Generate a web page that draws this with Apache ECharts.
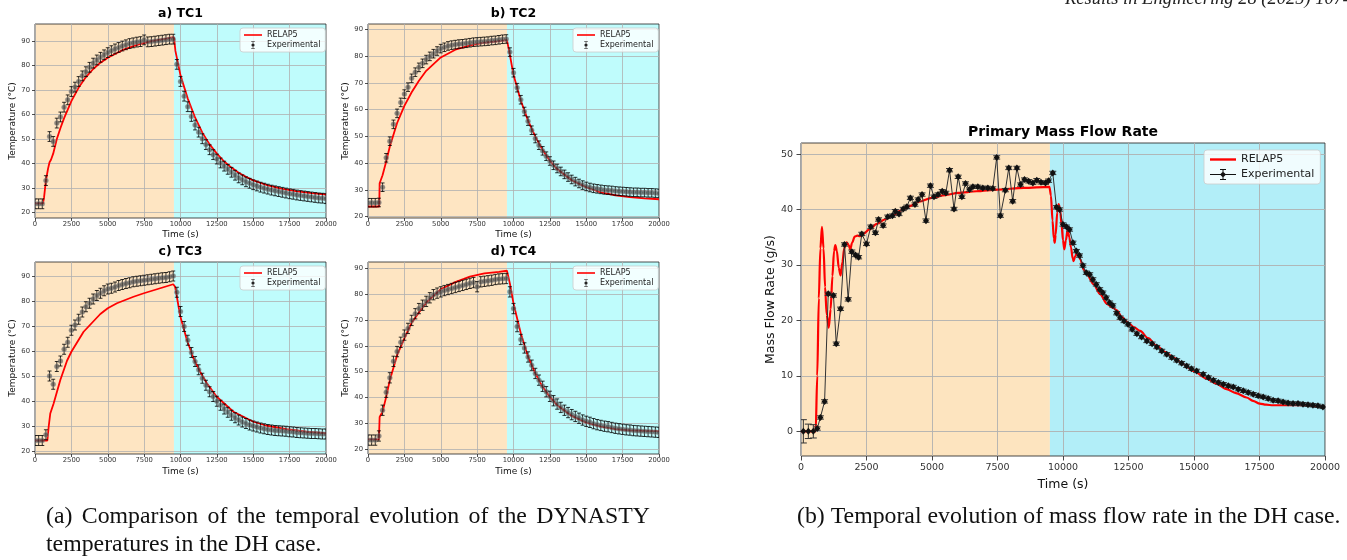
<!DOCTYPE html>
<html>
<head>
<meta charset="utf-8">
<script src="https://cdn.jsdelivr.net/npm/echarts@6/dist/echarts.min.js"></script>
<style>
  html, body { margin: 0; padding: 0; background: #fff; }
  #chart { width: 1347px; height: 560px; }
</style>
</head>
<body>
<div id="chart"></div>
<script>
// ---- data ----
// experimental sampling times (s), same for every thermocouple
const expTime = [0, 250, 500, 750, 1000, 1250, 1500, 1750, 2000, 2250, 2500, 2750, 3000, 3250, 3500, 3750, 4000, 4250, 4500, 4750,
  5000, 5250, 5500, 5750, 6000, 6250, 6500, 6750, 7000, 7250, 7500, 7750, 8000, 8250, 8500, 8750, 9000, 9250, 9500,
  9750, 10000, 10250, 10500, 10750, 11000, 11250, 11500, 11750, 12000, 12250, 12500, 12750, 13000, 13250, 13500, 13750, 14000, 14250, 14500, 14750,
  15000, 15250, 15500, 15750, 16000, 16250, 16500, 16750, 17000, 17250, 17500, 17750, 18000, 18250, 18500, 18750, 19000, 19250, 19500, 19750, 20000];

const tc1Exp = [23.5, 23.5, 23.5, 33, 51, 49, 56.5, 59, 63, 66, 69.4, 71.2, 73.5, 75.8, 77.5, 79.3, 81, 82.3, 83.4, 84.4,
  85.3, 86.1, 86.8, 87.4, 88, 88.5, 89, 89.3, 89.6, 89.8, 90.5, 89.7, 89.8, 90, 90.2, 90.4, 90.6, 90.8, 90.8,
  80.5, 73.5, 67.5, 63.2, 59.2, 55.7, 52.8, 50.1, 47.7, 45.6, 43.6, 41.8, 40.2, 38.9, 37.6, 36.4, 35.2, 34.1, 33.3, 32.5, 31.9,
  31.3, 30.8, 30.3, 29.9, 29.5, 29.1, 28.8, 28.5, 28.2, 27.9, 27.6, 27.4, 27.1, 26.9, 26.7, 26.5, 26.3, 26.1, 25.9, 25.8, 25.6];
const tc2Exp = [25.2, 25.2, 25.2, 25.3, 31, 42, 48.2, 54.5, 58.6, 62.7, 65.8, 68.4, 71.7, 74, 75.8, 77.3, 78.7, 79.9, 80.9, 81.9,
  82.8, 83.3, 83.8, 84.1, 84.3, 84.5, 84.6, 84.8, 85, 85.2, 85.3, 85.4, 85.5, 85.6, 85.8, 85.9, 86.1, 86.3, 86.4,
  81.5, 73.8, 68.2, 63.7, 59.3, 55.7, 52.3, 49.2, 46.7, 44.6, 42.6, 40.8, 39.2, 38, 36.9, 35.8, 34.8, 33.9, 33.1, 32.4, 31.8,
  31.3, 30.9, 30.6, 30.4, 30.2, 30, 29.9, 29.8, 29.6, 29.5, 29.4, 29.3, 29.2, 29.1, 29.1, 29, 29, 28.9, 28.9, 28.8, 28.7];
const tc3Exp = [24.2, 24.2, 24.2, 26.5, 50, 46.7, 53.8, 56, 60.7, 63.5, 68.3, 70.4, 72.7, 75.6, 77.7, 79.1, 80.8, 82.2, 83.1, 84.1,
  84.8, 85.1, 85.6, 86.2, 86.6, 87, 87.3, 87.7, 87.9, 88.1, 88.3, 88.5, 88.7, 88.9, 89.1, 89.3, 89.4, 89.7, 90,
  83.5, 75.8, 69.8, 64.3, 59.4, 55.8, 52.5, 49.1, 46.3, 43.7, 41.8, 39.9, 38.3, 36.8, 35.5, 34.3, 33.3, 32.4, 31.6, 31, 30.4,
  30, 29.6, 29.2, 28.9, 28.6, 28.4, 28.2, 28.1, 28, 27.9, 27.7, 27.6, 27.4, 27.3, 27.2, 27.1, 27, 27, 26.9, 26.8, 26.8];
const tc4Exp = [23.4, 23.4, 23.4, 25, 35, 42, 47.6, 54, 57.8, 61.4, 64.2, 66.8, 69.9, 72.5, 74.5, 75.8, 77.3, 78.7, 79.9, 80.5,
  81, 81.5, 81.9, 82.3, 82.7, 83.1, 83.5, 83.9, 84.3, 84.6, 83, 84.9, 85.1, 85.3, 85.5, 85.8, 86, 86.1, 86.2,
  81, 74.5, 67.5, 62.5, 59.2, 55.7, 52.5, 49.3, 46.7, 44.3, 42.2, 40.4, 38.7, 37.4, 36.1, 35, 34.1, 33.3, 32.6, 31.9, 31.2,
  30.7, 30.3, 29.8, 29.4, 29.1, 28.8, 28.6, 28.3, 28, 27.8, 27.6, 27.4, 27.3, 27.1, 27, 26.9, 26.8, 26.7, 26.6, 26.5, 26.4];

// measurement uncertainty (+/- degC)
const tc1Err = 2.0;
const tc2Err = 1.6;
const tc3Err = 2.0;
const tc4Err = 2.0;

// RELAP5 results
const tc1RelapT = [0, 550, 620, 750, 900, 1000, 1100, 1250, 1500, 1750, 2000, 2500, 3000, 3500, 4000, 4500, 5000, 6000, 7000, 8000, 9000, 9550,
  9650, 10000, 10500, 11000, 11500, 12000, 12500, 13000, 13500, 14000, 14500, 15000, 16000, 17000, 18000, 19000, 20000];
const tc1Relap = [23.7, 23.7, 26, 33, 38, 40.5, 41.5, 44, 50, 54.5, 58.5, 65.5, 71, 75.3, 78.6, 81.2, 83.2, 86.3, 88.5, 90, 91, 91.6,
  86, 76, 66.5, 58.8, 52.6, 47.8, 44, 40.8, 38.3, 36.2, 34.5, 33.1, 31, 29.6, 28.6, 27.9, 27.3];
const tc2RelapT = [0, 770, 800, 1000, 1250, 1500, 2000, 2500, 3000, 3500, 4000, 5000, 6000, 7000, 8000, 9000, 9550,
  9750, 10000, 10500, 11000, 11500, 12000, 12500, 13000, 14000, 15000, 16000, 17000, 18000, 19000, 20000];
const tc2Relap = [23.8, 23.8, 32.5, 35.5, 40.6, 46.2, 55, 61.4, 66.5, 70.8, 74.5, 79.5, 82.4, 84, 85, 85.6, 86,
  80.5, 73, 63.4, 55.9, 49.9, 44.9, 40.9, 37.8, 33.6, 31, 29.1, 28, 27.3, 26.8, 26.5];
const tc3RelapT = [0, 850, 940, 1050, 1280, 1510, 1740, 2200, 2500, 3340, 4490, 5000, 5630, 6770, 7480, 8380, 9500,
  9630, 9980, 10440, 10890, 11350, 11810, 12490, 13640, 15010, 15930, 17300, 18670, 20000];
const tc3Relap = [24.2, 24.2, 29.7, 35, 39, 43.7, 48.4, 56.1, 59.7, 67.7, 74.8, 77.1, 79.1, 81.7, 83.1, 84.7, 86.7,
  85.7, 74, 64.4, 57.1, 51.7, 47.1, 41.7, 35.7, 31.7, 30.1, 28.7, 27.7, 27.1];
const tc4RelapT = [0, 750, 800, 1000, 1250, 1500, 2000, 2500, 3000, 3500, 4000, 5000, 6000, 7000, 8000, 9000, 9550,
  9750, 10000, 10500, 11000, 11500, 12000, 12500, 13000, 14000, 15000, 16000, 17000, 18000, 19000, 20000];
const tc4Relap = [23.7, 23.7, 32.4, 34.4, 40.2, 46.7, 56.4, 62.9, 69, 73, 76.8, 82, 84.8, 86.9, 88.2, 88.8, 89.2,
  84.3, 76.5, 64.9, 55.8, 49.3, 44.1, 40.2, 37, 32.8, 30.2, 28.6, 27.7, 27.2, 27, 26.9];

// primary mass flow rate (g/s)
const mfExpT = [90, 280, 470, 620, 740, 900, 1040, 1240, 1345, 1510, 1660, 1800, 1940, 2080, 2200, 2320, 2500, 2665, 2840, 2960,
  3135, 3310, 3490, 3600, 3740, 3900, 4040, 4175, 4350, 4470, 4620, 4770, 4940, 5075, 5230, 5390, 5530, 5670, 5840, 6000,
  6140, 6280, 6430, 6560, 6750, 6940, 7130, 7320, 7470, 7610, 7800, 7930, 8080, 8240, 8380, 8530, 8690, 8850, 9000, 9160,
  9330, 9450, 9610, 9750, 9870, 10000, 10130, 10250, 10380, 10510, 10630, 10760, 10890, 11020, 11140, 11270, 11400, 11520, 11650, 11780,
  11900, 12050, 12180, 12330, 12480, 12640, 12820, 13000, 13200, 13400, 13580, 13770, 13960, 14150, 14340, 14530, 14720, 14900, 15100, 15350,
  15550, 15740, 15930, 16120, 16310, 16500, 16690, 16880, 17070, 17260, 17450, 17640, 17830, 18020, 18210, 18400, 18590, 18780, 18970, 19160,
  19350, 19540, 19730, 19920];
const mfExp = [0, 0, 0, 0.5, 2.5, 5.4, 24.8, 24.5, 15.8, 22.1, 33.7, 23.8, 32.4, 31.8, 31.4, 35.6, 33.8, 36.9, 35.8, 38.2,
  37.1, 38.7, 38.9, 39.7, 39.2, 40.1, 40.5, 42.1, 40.9, 41.8, 42.7, 38, 44.3, 42.3, 42.7, 43.3, 43, 47.1, 40.1, 45.9,
  42.3, 44.7, 43.6, 44.1, 44.1, 43.9, 43.9, 43.8, 49.4, 38.9, 43.5, 47.5, 41.5, 47.5, 44.5, 45.4, 45.1, 44.8, 45.3, 44.9,
  44.8, 45.2, 46.6, 40.4, 40, 37.3, 36.9, 36.4, 34, 32.5, 31.7, 29.9, 28.6, 28.3, 27.4, 26.5, 25.6, 25, 24.1, 23.2,
  22.7, 21.3, 20.5, 19.9, 19.3, 18.4, 17.6, 17, 16.3, 15.8, 15.2, 14.5, 13.9, 13.3, 12.8, 12.3, 11.8, 11.3, 10.9, 10.3,
  9.7, 9.2, 8.8, 8.5, 8.2, 8, 7.6, 7.3, 7, 6.7, 6.4, 6.2, 5.9, 5.6, 5.5, 5.3, 5.1, 5, 5, 4.9,
  4.8, 4.7, 4.6, 4.4];
const mfErrHead = [2.1, 1.3, 1.2]; // first samples have large bars
const mfErrRest = 0.3;

const mfRelapT = [0, 560, 620, 680, 740, 800, 860, 920, 980, 1060, 1130, 1200, 1260, 1310, 1370, 1440, 1510, 1580, 1650, 1740,
  1820, 1880, 1950, 2050, 2150, 2250, 2400, 2600, 2900, 3200, 3500, 3800, 4150, 4500, 5000, 5500, 6000, 6700, 7500, 8500,
  9480, 9540, 9600, 9650, 9683, 9720, 9780, 9835, 9890, 9950, 10000, 10050, 10110, 10178, 10240, 10305, 10370, 10406, 10460, 10533,
  10600, 10660, 10787, 10914, 11168, 11421, 11675, 11900, 12056, 12250, 12475, 12700, 12944, 13250, 13579, 13900, 14213, 14600, 14975, 15482,
  15850, 16244, 16600, 17005, 17250, 17513, 17750, 18020, 18655, 19289, 19924, 20000];
const mfRelap = [0, 0, 10, 24, 33, 36.9, 33, 26, 21, 18.7, 22, 28, 32.5, 33.6, 32.5, 29.5, 28.1, 30.5, 33, 34.1,
  33.6, 32.8, 34, 35.1, 35.3, 35.2, 35.7, 36.4, 37.4, 38.2, 38.9, 39.8, 40.6, 41.4, 42.1, 42.6, 43, 43.3, 43.6, 43.9,
  44.1, 42.5, 38, 34.8, 34, 35.5, 39.5, 41, 40, 37, 34.5, 32.8, 34.5, 36.4, 35, 33.2, 31.2, 30.7, 31.5, 32.2,
  31.6, 31, 29.2, 28.3, 26.5, 24.7, 23, 22.3, 21.8, 20.6, 19.6, 18.8, 18.1, 16.8, 15.4, 14.3, 13.3, 12.1, 10.9, 9.5,
  8.6, 7.6, 6.9, 6.1, 5.5, 5, 4.8, 4.7, 4.7, 4.7, 4.4, 4.4];

const timeTicks = [0, 2500, 5000, 7500, 10000, 12500, 15000, 17500, 20000];
const tempTicks = [20, 30, 40, 50, 60, 70, 80, 90];
const flowTicks = [0, 10, 20, 30, 40, 50];

// heating / cooling phases
const tcSwitch = 9550;
const mfSwitch = 9500;

// ---- helpers ----
const pairs = (xs, ys) => xs.map((x, i) => [x, ys[i]]);

function shadeItem(colors) {
  return function (params, api) {
    const a = api.coord([api.value(0), 0]);
    const b = api.coord([api.value(1), 0]);
    const cs = params.coordSys;
    return {
      type: 'rect',
      shape: { x: a[0], y: cs.y, width: b[0] - a[0], height: cs.height },
      style: { fill: colors[params.dataIndex] }
    };
  };
}

function errorBarItem(capHalf, barColor, width, marker) {
  return function (params, api) {
    const t = api.value(0), v = api.value(1), e = api.value(2);
    const c = api.coord([t, v]);
    const hi = api.coord([t, v + e]);
    const lo = api.coord([t, v - e]);
    const st = () => ({ stroke: barColor, lineWidth: width });
    const kids = [
      { type: 'line', shape: { x1: c[0], y1: hi[1], x2: c[0], y2: lo[1] }, style: st() },
      { type: 'line', shape: { x1: c[0] - capHalf, y1: hi[1], x2: c[0] + capHalf, y2: hi[1] }, style: st() },
      { type: 'line', shape: { x1: c[0] - capHalf, y1: lo[1], x2: c[0] + capHalf, y2: lo[1] }, style: st() }
    ];
    if (marker) {
      kids.push({ type: 'circle', shape: { cx: c[0], cy: c[1], r: 2.5 },
        style: { fill: 'rgba(70,70,70,0.62)', stroke: 'rgba(160,160,160,0.6)', lineWidth: 0.6 } });
    }
    return { type: 'group', children: kids };
  };
}

// spread words over a given width, like the justified caption line
function justified(words, x0, x1, y, fontCss) {
  const ctx = document.createElement('canvas').getContext('2d');
  ctx.font = fontCss;
  const widths = words.map(w => ctx.measureText(w).width);
  const total = widths.reduce((s, w) => s + w, 0);
  const gap = (x1 - x0 - total) / (words.length - 1);
  let x = x0;
  return words.map((w, i) => {
    const el = { type: 'text', x: x, y: y, style: { text: w, font: fontCss, fill: '#111', textVerticalAlign: 'middle' } };
    x += widths[i] + gap;
    return el;
  });
}

const font = 'DejaVu Sans';
const tcShade = ['#fee5c2', '#bffcfc'];
const mfShade = ['#fde4bf', '#b2eef8'];

const tcPanels = [
  { title: 'a) TC1', left: 35, top: 24, height: 194, yMin: 17.7, yMax: 97, exp: tc1Exp, err: tc1Err, rt: tc1RelapT, rv: tc1Relap, nameGap: 12 },
  { title: 'b) TC2', left: 368, top: 24, height: 194, yMin: 19.5, yMax: 92, exp: tc2Exp, err: tc2Err, rt: tc2RelapT, rv: tc2Relap, nameGap: 12 },
  { title: 'c) TC3', left: 35, top: 262, height: 192, yMin: 18.8, yMax: 95.6, exp: tc3Exp, err: tc3Err, rt: tc3RelapT, rv: tc3Relap, nameGap: 13 },
  { title: 'd) TC4', left: 368, top: 262, height: 192, yMin: 18, yMax: 92.6, exp: tc4Exp, err: tc4Err, rt: tc4RelapT, rv: tc4Relap, nameGap: 13 }
];

const grid = [], xAxis = [], yAxis = [], series = [], legend = [], graphic = [];

tcPanels.forEach((p, i) => {
  grid.push({ left: p.left, top: p.top, width: 291, height: p.height, show: true,
    borderColor: '#222', borderWidth: 0.8, backgroundColor: 'transparent', z: 1 });
  xAxis.push({
    type: 'value', gridIndex: i, min: 0, max: 20000, z: 1,
    axisLine: { show: false, onZero: false },
    axisTick: { customValues: timeTicks, length: 3, lineStyle: { color: '#222', width: 0.8 } },
    axisLabel: { customValues: timeTicks, fontSize: 6.8, color: '#333', margin: 3, fontFamily: font, formatter: v => String(v) },
    splitLine: { show: true, lineStyle: { color: '#b0b0b0', width: 0.8 } },
    name: 'Time (s)', nameLocation: 'middle', nameGap: p.nameGap,
    nameTextStyle: { fontSize: 9, color: '#111', fontFamily: font }
  });
  yAxis.push({
    type: 'value', gridIndex: i, min: p.yMin, max: p.yMax, z: 1,
    axisLine: { show: false, onZero: false },
    axisTick: { customValues: tempTicks, length: 3, lineStyle: { color: '#222', width: 0.8 } },
    axisLabel: { customValues: tempTicks, fontSize: 6.8, color: '#333', margin: 5, fontFamily: font },
    splitLine: { show: true, lineStyle: { color: '#b0b0b0', width: 0.8 } },
    name: 'Temperature (°C)', nameLocation: 'middle', nameGap: 16,
    nameTextStyle: { fontSize: 9, color: '#111', fontFamily: font }
  });
  series.push({
    type: 'custom', xAxisIndex: i, yAxisIndex: i, z: 0, silent: true,
    renderItem: shadeItem(tcShade),
    data: [[0, tcSwitch], [tcSwitch, 20000]]
  });
  series.push({
    type: 'line', name: 'RELAP5', xAxisIndex: i, yAxisIndex: i, z: 2,
    data: pairs(p.rt, p.rv), symbol: 'none', showSymbol: false,
    lineStyle: { color: '#ff0000', width: 1.8 }, itemStyle: { color: '#ff0000' }
  });
  series.push({
    type: 'custom', name: 'Experimental', xAxisIndex: i, yAxisIndex: i, z: 3, clip: true,
    renderItem: errorBarItem(2, '#000', 0.8, true),
    itemStyle: { color: '#333' },
    data: expTime.map((t, k) => [t, p.exp[k], p.err])
  });
  legend.push({
    orient: 'vertical', left: p.left + 205, top: p.top + 4,
    padding: [3, 5, 3, 4], itemGap: 2, itemWidth: 18, itemHeight: 8, selectedMode: false,
    backgroundColor: 'rgba(255,255,255,0.8)', borderColor: '#cccccc', borderWidth: 0.8, borderRadius: 3,
    textStyle: { fontSize: 8, fontFamily: font, color: '#222' },
    data: [
      { name: 'RELAP5', icon: 'path://M0,0h18v1.6h-18z', itemStyle: { color: '#ff0000', borderWidth: 0 } },
      { name: 'Experimental', icon: 'path://M0,0h4v0.6h-1.7v6.8h1.7v0.6h-4v-0.6h1.7v-6.8h-1.7zM0.4,4a1.6,1.6 0 1,1 3.2,0a1.6,1.6 0 1,1 -3.2,0z',
        itemStyle: { color: '#222', borderWidth: 0 } }
    ]
  });
  graphic.push({
    type: 'text', x: p.left + 145.5, y: p.top - 10,
    style: { text: p.title, font: 'bold 12.5px "DejaVu Sans"', fill: '#000', textAlign: 'center', textVerticalAlign: 'middle' }
  });
});

// mass flow panel
const mi = 4;
grid.push({ left: 801, top: 143, width: 524, height: 313, show: true,
  borderColor: '#333', borderWidth: 0.9, backgroundColor: 'transparent', z: 1 });
xAxis.push({
  type: 'value', gridIndex: mi, min: 0, max: 20000, z: 1,
  axisLine: { show: false, onZero: false },
  axisTick: { customValues: timeTicks, length: 4.5, lineStyle: { color: '#333', width: 0.9 } },
  axisLabel: { customValues: timeTicks, fontSize: 9.5, color: '#333', margin: 7, fontFamily: font, formatter: v => String(v) },
  splitLine: { show: true, lineStyle: { color: '#b0b0b0', width: 0.9 } },
  name: 'Time (s)', nameLocation: 'middle', nameGap: 19,
  nameTextStyle: { fontSize: 12.5, color: '#111', fontFamily: font }
});
yAxis.push({
  type: 'value', gridIndex: mi, min: -4.45, max: 52, z: 1,
  axisLine: { show: false, onZero: false },
  axisTick: { customValues: flowTicks, length: 4.5, lineStyle: { color: '#333', width: 0.9 } },
  axisLabel: { customValues: flowTicks, fontSize: 9.5, color: '#333', margin: 8, fontFamily: font },
  splitLine: { show: true, lineStyle: { color: '#b0b0b0', width: 0.9 } },
  name: 'Mass Flow Rate (g/s)', nameLocation: 'middle', nameGap: 23,
  nameTextStyle: { fontSize: 12.5, color: '#111', fontFamily: font }
});
series.push({
  type: 'custom', xAxisIndex: mi, yAxisIndex: mi, z: 0, silent: true,
  renderItem: shadeItem(mfShade),
  data: [[0, mfSwitch], [mfSwitch, 20000]]
});
series.push({
  type: 'line', name: 'RELAP5', xAxisIndex: mi, yAxisIndex: mi, z: 2,
  data: pairs(mfRelapT, mfRelap), symbol: 'none', showSymbol: false, smooth: 0.3, smoothMonotone: 'x',
  lineStyle: { color: '#ff0000', width: 2.2 }, itemStyle: { color: '#ff0000' }
});
series.push({
  type: 'custom', xAxisIndex: mi, yAxisIndex: mi, z: 3, clip: true, silent: true,
  renderItem: errorBarItem(3.5, '#333', 1, false),
  data: mfExpT.map((t, k) => [t, mfExp[k], k < mfErrHead.length ? mfErrHead[k] : mfErrRest])
});
series.push({
  type: 'line', name: 'Experimental', xAxisIndex: mi, yAxisIndex: mi, z: 4,
  data: pairs(mfExpT, mfExp), symbol: 'diamond', symbolSize: [6, 7], showSymbol: true,
  itemStyle: { color: '#111' }, lineStyle: { color: '#333', width: 1 }
});
legend.push({
  orient: 'vertical', left: 1204, top: 150,
  padding: [4, 6, 4, 6], itemGap: 4, itemWidth: 26, itemHeight: 12, selectedMode: false,
  backgroundColor: 'rgba(255,255,255,0.8)', borderColor: '#cccccc', borderWidth: 0.8, borderRadius: 3,
  textStyle: { fontSize: 11, fontFamily: font, color: '#222' },
  data: [
    { name: 'RELAP5', icon: 'path://M0,0h26v2.4h-26z', itemStyle: { color: '#ff0000', borderWidth: 0 } },
    { name: 'Experimental', icon: 'path://M0,5.5h26v1h-26zM12.5,1h1v10h-1zM10,0.6h6v0.8h-6zM10,10.6h6v0.8h-6zM13,3l3,3l-3,3l-3,-3z',
      itemStyle: { color: '#111', borderWidth: 0 } }
  ]
});
graphic.push({
  type: 'text', x: 1063, y: 132,
  style: { text: 'Primary Mass Flow Rate', font: 'bold 14px "DejaVu Sans"', fill: '#000', textAlign: 'center', textVerticalAlign: 'middle' }
});

// page furniture: running header and sub-captions
const capFont = '23.8px "Liberation Serif"';
graphic.push({
  type: 'text', x: 1065, y: -10,
  style: { text: 'Results in Engineering 28 (2025) 107404', font: 'italic 18.5px "Liberation Serif"', fill: '#222', textVerticalAlign: 'top' }
});
justified(['(a)', 'Comparison', 'of', 'the', 'temporal', 'evolution', 'of', 'the', 'DYNASTY'], 46, 650, 517, capFont)
  .forEach(el => graphic.push(el));
graphic.push({
  type: 'text', x: 46, y: 545,
  style: { text: 'temperatures in the DH case.', font: capFont, fill: '#111', textVerticalAlign: 'middle' }
});
graphic.push({
  type: 'text', x: 797, y: 517,
  style: { text: '(b) Temporal evolution of mass flow rate in the DH case.', font: capFont, fill: '#111', textVerticalAlign: 'middle' }
});

const myChart = echarts.init(document.getElementById('chart'));
myChart.setOption({
  backgroundColor: '#ffffff',
  animation: false,
  textStyle: { fontFamily: font },
  grid, xAxis, yAxis, series, legend, graphic
});
</script>
</body>
</html>
